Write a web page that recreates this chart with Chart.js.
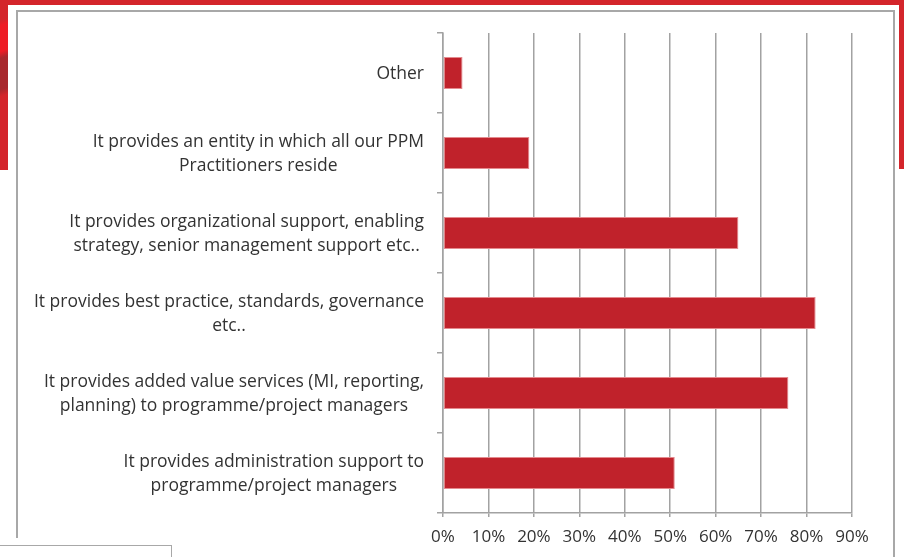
<!DOCTYPE html>
<html>
<head>
<meta charset="utf-8">
<script src="https://cdn.jsdelivr.net/npm/chart.js@4.4.1/dist/chart.umd.min.js"></script>
<style>
  html, body { margin: 0; padding: 0; background: #fff; }
  body { width: 904px; height: 557px; position: relative; overflow: hidden; }
  .red-top { position: absolute; left: 0; top: 0; width: 904px; height: 5px; background: #d4252b; }
  .red-left { position: absolute; left: 0; top: 0; width: 8px; height: 170px;
    background: linear-gradient(160deg, #d4252b 0%, #d4252b 12%, #ee1c25 15%, #ee1c25 30%, #a8282d 34%, #a8282d 52%, #d4252b 56%, #d4252b 100%); }
  .red-right { position: absolute; left: 899px; top: 0; width: 5px; height: 169px; background: #d4252b; }
  .panel { position: absolute; left: 16px; top: 10px; width: 875px; height: 560px;
    border-left: 2px solid #a8a8a8; border-top: 2px solid #a8a8a8; border-right: 2px solid #a8a8a8; }
  .panel-cut { position: absolute; left: 0; top: 538px; width: 20px; height: 30px; background: #fff; }
  .box { position: absolute; left: -2px; top: 545px; width: 173px; height: 30px;
    border-top: 1px solid #a8a8a8; border-right: 1px solid #a8a8a8; }
  #wrap { position: absolute; left: 0; top: 0; width: 904px; height: 557px; }
</style>
</head>
<body>
<div class="red-top"></div>
<div class="red-left"></div>
<div class="red-right"></div>
<div class="panel"></div>
<div class="panel-cut"></div>
<div class="box"></div>
<div id="wrap"><canvas id="myChart"></canvas></div>
<script>
// categories, top to bottom
var categories = [
    ['Other'],
    ['It provides an entity in which all our PPM', 'Practitioners reside'],
    ['It provides organizational support, enabling', 'strategy, senior management support etc..'],
    ['It provides best practice, standards, governance', 'etc..'],
    ['It provides added value services (MI, reporting,', 'planning) to programme/project managers'],
    ['It provides administration support to', 'programme/project managers']
];
var values = [4.3, 19, 65, 82, 76, 51];
var tickValues = [0, 10, 20, 30, 40, 50, 60, 70, 80, 90];

var gridGray = '#a2a2a2';
var textColor = '#333333';
var labelFont = '17.5px "Open Sans"';

// Excel style category labels: block right-aligned, lines centred within the block
var categoryLabels = {
    id: 'categoryLabels',
    afterDraw: function(chart) {
        var y = chart.scales.y;
        var c = chart.ctx;
        c.save();
        c.font = labelFont;
        c.fillStyle = textColor;
        c.textAlign = 'center';
        c.textBaseline = 'middle';
        var right = y.right - 19;
        var lineH = 24;
        categories.forEach(function(lines, i) {
            var yc = y.getPixelForTick(i) + 1.5;
            var w = Math.max.apply(null, lines.map(function(s) { return c.measureText(s).width; }));
            var cx = right - w / 2;
            lines.forEach(function(s, j) {
                c.fillText(s, cx, yc + (j - (lines.length - 1) / 2) * lineH);
            });
        });
        c.restore();
    }
};

var ctx = document.getElementById('myChart').getContext('2d');
var myChart = new Chart(ctx, {
    type: 'bar',
    data: {
        labels: categories,
        datasets: [{
            data: values,
            backgroundColor: '#c0222b',
            borderColor: '#e48a8e',
            borderWidth: 1,
            borderSkipped: false,
            categoryPercentage: 1,
            barPercentage: 0.4
        }]
    },
    plugins: [categoryLabels],
    options: {
        indexAxis: 'y',
        responsive: true,
        maintainAspectRatio: false,
        animation: false,
        layout: { padding: { top: 33, right: 52, bottom: 0, left: 0 } },
        plugins: { legend: { display: false }, tooltip: { enabled: false } },
        scales: {
            x: {
                type: 'linear',
                min: 0,
                max: 90,
                afterBuildTicks: function(scale) {
                    scale.ticks = tickValues.map(function(v) { return { value: v }; });
                },
                afterFit: function(scale) { scale.height = 44; },
                grid: { color: gridGray, lineWidth: 1.5, tickLength: 4 },
                border: { display: true, color: gridGray, width: 1.5 },
                ticks: {
                    color: textColor,
                    padding: 10,
                    maxRotation: 0,
                    font: { family: 'Open Sans', size: 17 },
                    callback: function(v) { return v + '%'; }
                }
            },
            y: {
                afterFit: function(scale) { scale.width = 443; },
                grid: { drawOnChartArea: false, color: gridGray, lineWidth: 1.5, tickLength: 6 },
                border: { display: true, color: gridGray, width: 1.5 },
                ticks: { display: false }
            }
        }
    }
});
</script>
</body>
</html>
